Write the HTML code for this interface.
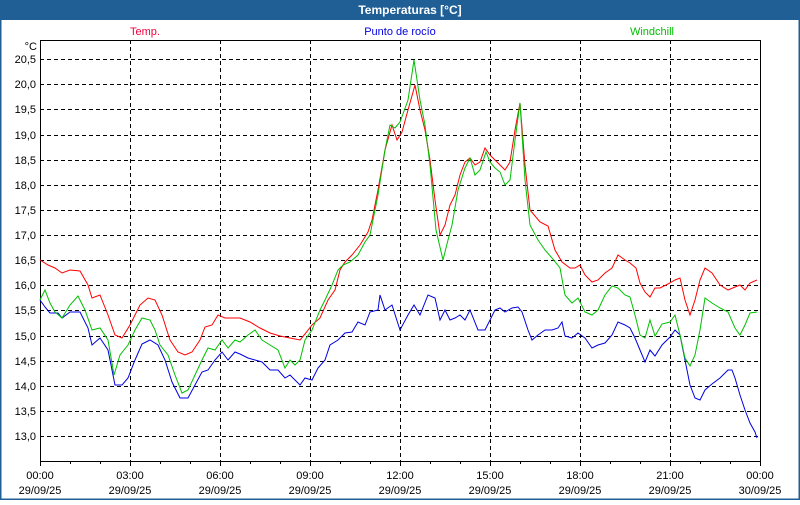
<!DOCTYPE html>
<html><head><meta charset="utf-8"><style>
body{margin:0;width:800px;height:500px;overflow:hidden;background:#fff;font-family:"Liberation Sans","DejaVu Sans",sans-serif}
</style></head><body>
<svg width="800" height="500" xmlns="http://www.w3.org/2000/svg" font-family="Liberation Sans, DejaVu Sans, sans-serif" font-size="11">
<rect x="0" y="0" width="800" height="500" fill="#fff"/>
<rect x="0" y="0" width="800" height="20" fill="#1f5f96"/>
<rect x="0.5" y="0.5" width="799" height="499" fill="none" stroke="#1f5f96" stroke-width="2"/>
<text x="410" y="14" fill="#fff" font-weight="bold" font-size="12" text-anchor="middle">Temperaturas [°C]</text>
<text x="145" y="35" fill="#f0003c" text-anchor="middle">Temp.</text>
<text x="400" y="35" fill="#0000e0" text-anchor="middle">Punto de rocío</text>
<text x="652" y="35" fill="#00c000" text-anchor="middle">Windchill</text>
<text x="37" y="50" text-anchor="end">°C</text>
<g stroke="#000" stroke-dasharray="4,3" stroke-width="1">
<path d="M130.5 40V461M220.5 40V461M310.5 40V461M400.5 40V461M490.5 40V461M580.5 40V461M670.5 40V461"/>
<path d="M40 59.5H760M40 84.5H760M40 109.5H760M40 135.5H760M40 160.5H760M40 185.5H760M40 210.5H760M40 235.5H760M40 260.5H760M40 285.5H760M40 310.5H760M40 336.5H760M40 361.5H760M40 386.5H760M40 411.5H760M40 436.5H760"/>
</g>
<rect x="40.5" y="40.5" width="720" height="421" fill="none" stroke="#000"/>
<g stroke="#000"><path d="M40.5 461v5M70.5 461v3M100.5 461v3M130.5 461v5M160.5 461v3M190.5 461v3M220.5 461v5M250.5 461v3M280.5 461v3M310.5 461v5M340.5 461v3M370.5 461v3M400.5 461v5M430.5 461v3M460.5 461v3M490.5 461v5M520.5 461v3M550.5 461v3M580.5 461v5M610.5 461v3M640.5 461v3M670.5 461v5M700.5 461v3M730.5 461v3M760.5 461v5"/></g>
<g text-anchor="end">
<text x="36" y="63">20,5</text><text x="36" y="88">20,0</text><text x="36" y="113">19,5</text><text x="36" y="139">19,0</text><text x="36" y="164">18,5</text><text x="36" y="189">18,0</text><text x="36" y="214">17,5</text><text x="36" y="239">17,0</text><text x="36" y="264">16,5</text><text x="36" y="289">16,0</text><text x="36" y="314">15,5</text><text x="36" y="340">15,0</text><text x="36" y="365">14,5</text><text x="36" y="390">14,0</text><text x="36" y="415">13,5</text><text x="36" y="440">13,0</text>
</g>
<g text-anchor="middle">
<text x="40" y="479">00:00</text><text x="40" y="494">29/09/25</text>
<text x="130" y="479">03:00</text><text x="130" y="494">29/09/25</text>
<text x="220" y="479">06:00</text><text x="220" y="494">29/09/25</text>
<text x="310" y="479">09:00</text><text x="310" y="494">29/09/25</text>
<text x="400" y="479">12:00</text><text x="400" y="494">29/09/25</text>
<text x="490" y="479">15:00</text><text x="490" y="494">29/09/25</text>
<text x="580" y="479">18:00</text><text x="580" y="494">29/09/25</text>
<text x="670" y="479">21:00</text><text x="670" y="494">29/09/25</text>
<text x="760" y="479">00:00</text><text x="760" y="494">30/09/25</text>
</g>
<g fill="none" stroke-width="1">
<polyline stroke="#0000e0" points="40,300 45,307 50,313 58,313 62,318 70,312 80,312 88,328 92,345 100,338 108,350 115,385 122,385 128,378 135,360 142,344 150,340 158,345 165,360 172,382 180,398 188,398 195,385 202,372 208,370 215,360 222,352 228,360 235,352 240,354 248,358 255,360 262,362 270,370 278,370 285,378 290,375 300,385 305,378 312,380 318,368 325,360 330,345 338,340 345,333 352,332 358,322 365,325 370,312 378,310 380,295 385,310 392,305 400,330 408,315 414,305 420,315 428,295 435,298 440,320 445,310 450,320 455,318 460,315 465,320 470,310 478,330 485,330 490,320 495,310 500,308 505,312 512,308 518,307 522,312 528,330 532,340 538,335 545,330 552,330 558,328 562,322 565,336 572,338 578,333 585,338 592,348 598,345 605,343 612,335 618,322 625,325 630,328 635,338 640,350 645,362 650,350 655,356 662,345 670,337 675,330 680,335 685,360 690,385 695,398 700,400 705,390 712,384 720,378 728,370 732,370 735,378 740,395 745,410 750,423 755,432 757,438"/>
<polyline stroke="#ff0000" points="40,260 48,265 55,268 62,273 70,270 80,271 88,285 92,298 100,295 108,315 115,335 122,338 130,325 140,305 148,298 155,300 162,315 170,340 178,352 185,355 192,352 200,340 205,327 212,325 218,315 225,318 232,318 240,318 250,322 260,328 270,333 280,336 290,338 300,340 305,334 312,325 320,318 328,300 335,290 340,270 345,262 352,255 360,245 368,232 372,220 378,190 385,150 392,125 397,140 402,132 408,110 415,85 420,110 425,130 430,160 435,200 440,235 445,225 450,205 455,195 460,175 465,162 470,158 475,165 480,162 485,148 490,155 495,160 500,165 505,170 510,162 515,130 520,103 525,165 530,210 540,222 548,226 555,250 562,262 570,268 575,268 580,265 585,275 592,282 598,280 605,273 612,268 618,255 625,260 630,263 636,268 640,283 645,292 650,297 655,288 660,288 668,284 675,280 680,278 685,300 690,315 695,300 700,280 705,268 712,273 720,285 728,290 735,287 740,285 745,290 750,283 757,280"/>
<polyline stroke="#00c000" points="40,300 45,290 50,303 55,312 62,318 70,305 78,296 85,310 92,330 100,328 108,340 114,375 120,355 128,345 135,330 142,318 150,320 155,330 160,345 168,355 175,375 182,393 188,390 195,375 202,360 208,348 215,350 222,340 228,348 235,340 240,342 248,335 255,330 262,340 270,345 278,350 285,368 290,360 295,365 300,360 305,340 312,330 320,310 325,300 332,285 338,270 343,265 350,262 358,255 365,242 370,235 378,195 385,150 390,125 395,128 400,122 408,100 414,60 420,100 425,125 430,165 436,230 443,260 448,240 452,225 458,190 465,168 470,158 475,175 480,170 486,152 490,162 495,168 500,172 505,185 510,180 515,140 520,103 525,180 530,225 538,240 545,250 552,258 560,268 565,295 572,303 578,298 585,312 592,315 598,310 605,295 612,286 618,288 625,295 630,297 635,315 640,335 645,338 650,320 655,336 662,324 670,322 675,315 680,335 685,358 690,366 695,355 700,330 705,298 712,303 720,308 728,312 735,328 740,335 745,325 750,313 757,312"/>
</g>
</svg>
</body></html>
